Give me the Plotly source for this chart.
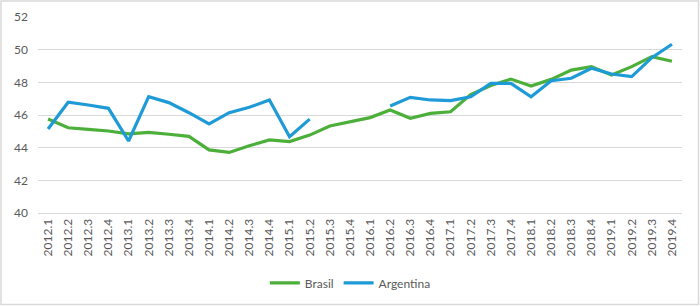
import plotly.graph_objects as go

quarters = [f"{y}.{q}" for y in range(2012, 2020) for q in range(1, 5)]

brasil = [45.75, 45.22, 45.12, 45.02, 44.84, 44.94, 44.82, 44.69,
          43.86, 43.71, 44.12, 44.47, 44.37, 44.77, 45.33, 45.59,
          45.84, 46.31, 45.80, 46.10, 46.20, 47.25, 47.80, 48.20,
          47.77, 48.18, 48.75, 48.96, 48.45, 48.96, 49.57, 49.29]

argentina = [45.14, 46.78, 46.61, 46.41, 44.41, 47.12, 46.76, 46.14,
             45.45, 46.14, 46.47, 46.92, 44.67, 45.75, None, None,
             None, 46.55, 47.08, 46.92, 46.88, 47.12, 47.94, 47.94,
             47.12, 48.10, 48.25, 48.86, 48.51, 48.35, 49.51, 50.33]

y_ticks = [40, 42, 44, 46, 48, 50, 52]

GREEN = "#4CAF3A"
BLUE = "#1E9BD7"
FONT = "Lato"
GRAY_TXT = "#595959"
GRID = "#d9d9d9"

fig = go.Figure()
fig.add_trace(go.Scatter(x=quarters, y=brasil, mode="lines", name="Brasil",
                         line=dict(color=GREEN, width=3.2)))
fig.add_trace(go.Scatter(x=quarters, y=argentina, mode="lines", name="Argentina",
                         line=dict(color=BLUE, width=3.2), connectgaps=False))

L, R, T, B = 38, 18, 17, 93
W, H = 700, 306
pw, ph = W - L - R, H - T - B

fig.update_layout(
    width=W, height=H,
    margin=dict(l=L, r=R, t=T, b=B, autoexpand=False),
    paper_bgcolor="white", plot_bgcolor="white",
    font=dict(family=FONT, size=11, color=GRAY_TXT),
    showlegend=True,
    legend=dict(orientation="h", x=0.485, xanchor="center", y=-0.357, yanchor="middle",
                font=dict(family=FONT, size=12, color=GRAY_TXT),
                bgcolor="rgba(0,0,0,0)", tracegroupgap=0),
    xaxis=dict(type="category", tickangle=-90, showgrid=False, automargin=False,
               showline=True, linecolor=GRID, linewidth=1,
               ticks="", tickfont=dict(size=12, color=GRAY_TXT),
               range=[-0.5, len(quarters) - 0.5]),
    yaxis=dict(range=[40, 52], tickvals=y_ticks, showgrid=True, gridcolor=GRID,
               gridwidth=1, zeroline=False, showline=False, ticks="", automargin=False,
               ticklabelstandoff=9,
               tickfont=dict(size=12, color=GRAY_TXT)),
    shapes=[dict(type="rect", xref="paper", yref="paper",
                 x0=(-L + 1) / pw, x1=1 + (R - 1.5) / pw,
                 y0=(-B + 1.5) / ph, y1=1 + (T - 1) / ph,
                 line=dict(color=GRID, width=1.5), layer="above")],
)

fig.write_html("out.html", config={"displayModeBar": False},
               post_script="document.body.style.margin='0';document.body.style.padding='0';")
